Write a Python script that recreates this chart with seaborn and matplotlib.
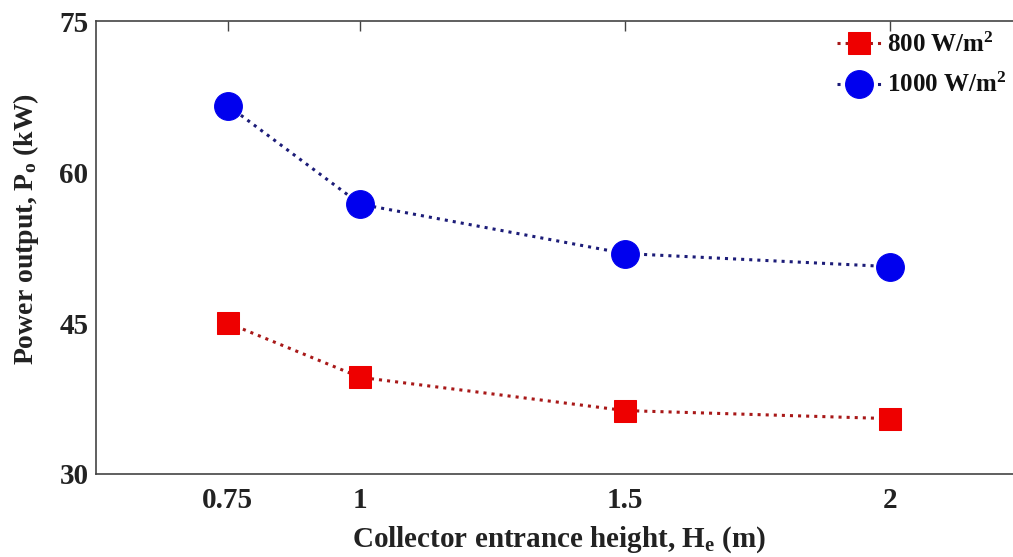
import matplotlib
matplotlib.use("Agg")
import matplotlib.pyplot as plt
import seaborn as sns
import pandas as pd

heights = [0.75, 1.0, 1.5, 2.0]
p_800 = [45.0, 39.6, 36.3, 35.5]
p_1000 = [66.6, 56.8, 51.9, 50.6]
labels = ["800 W/m$^{\\mathbf{2}}$", "1000 W/m$^{\\mathbf{2}}$"]
xticks = [0.75, 1, 1.5, 2]
xticklabels = ["0.75", "1", "1.5", "2"]
yticks = [30, 45, 60, 75]

sns.set_style("white")
plt.rcParams["font.family"] = ["Liberation Serif", "DejaVu Serif"]
plt.rcParams["font.weight"] = "bold"
plt.rcParams["mathtext.fontset"] = "custom"
plt.rcParams["mathtext.rm"] = "Liberation Serif:bold"
plt.rcParams["mathtext.bf"] = "Liberation Serif:bold"
plt.rcParams["mathtext.it"] = "Liberation Serif:bold"

fig = plt.figure(figsize=(10.13, 5.57), dpi=100)
ax = fig.add_axes([95.5 / 1013, 83 / 557, 927 / 1013, 453 / 557])

df = pd.DataFrame({"h": heights, "p800": p_800, "p1000": p_1000})

sns.lineplot(data=df, x="h", y="p800", ax=ax, color="#a81818", linestyle=":",
             linewidth=2.2, marker="s", markersize=16, markerfacecolor="#ee0000",
             markeredgecolor="#ee0000", label=labels[0])
sns.lineplot(data=df, x="h", y="p1000", ax=ax, color="#1c1c78", linestyle=":",
             linewidth=2.2, marker="o", markersize=20, markerfacecolor="#0000ee",
             markeredgecolor="#0000ee", label=labels[1])

ax.set_xlim(0.5, 2.25)
ax.set_ylim(30, 75)
ax.set_xticks(xticks)
ax.set_xticklabels(xticklabels)
ax.set_yticks(yticks)

for s in ax.spines.values():
    s.set_visible(True)
    s.set_color("#444444")
    s.set_linewidth(1.2)

ax.tick_params(direction="in", length=7, width=1, colors="#444444",
               top=True, right=True, labelsize=21, labelcolor="#222222")
ax.tick_params(axis="x", pad=9)
ax.tick_params(axis="y", pad=5)
for t in ax.get_xticklabels() + ax.get_yticklabels():
    t.set_fontweight("bold")

ax.set_xlabel("Collector entrance height, H$_{\\mathbf{e}}$ (m)", fontsize=21,
              fontweight="bold", color="#222222", labelpad=8)
ax.set_ylabel("Power output, P$_{\\mathbf{o}}$ (kW)", fontsize=20,
              fontweight="bold", color="#222222")
ax.yaxis.set_label_coords(-0.059, 0.54)

leg = ax.legend(loc="upper left", bbox_to_anchor=(0.781, 1.013), frameon=False,
                fontsize=18, handlelength=1.75, handletextpad=0.25,
                labelspacing=0.65, borderpad=0.2, borderaxespad=0.5)
for t in leg.get_texts():
    t.set_fontweight("bold")
    t.set_color("#111111")

fig.savefig("out.png", dpi=100)
